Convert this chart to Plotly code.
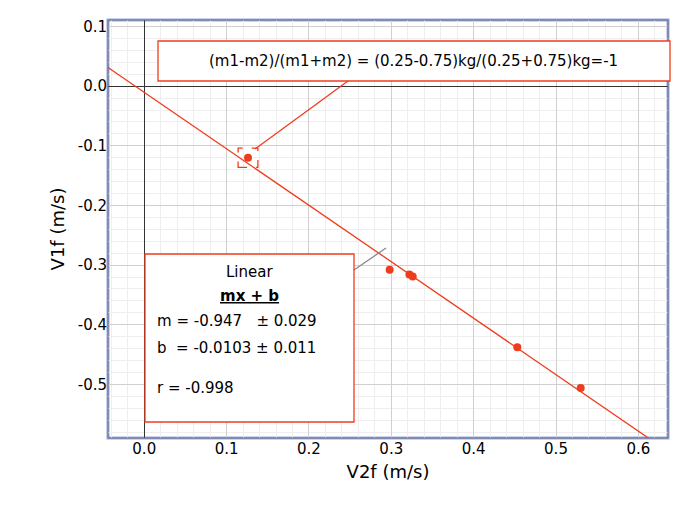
import plotly.graph_objects as go

v2f = [0.126, 0.298, 0.322, 0.326, 0.453, 0.530]
v1f = [-0.120, -0.308, -0.316, -0.319, -0.438, -0.506]

# linear fit
slope = -0.947
intercept = -0.0103
fit_x = [-0.044, 0.64]
fit_y = [slope * x + intercept for x in fit_x]

xticks = [0, 0.1, 0.2, 0.3, 0.4, 0.5, 0.6]
yticks = [0.1, 0, -0.1, -0.2, -0.3, -0.4, -0.5]

red = "#f03c1e"
fnt = "DejaVu Sans"

fig = go.Figure()
fig.add_trace(go.Scatter(x=fit_x, y=fit_y, mode="lines",
                         line=dict(color=red, width=1.3), hoverinfo="skip"))
fig.add_trace(go.Scatter(x=v2f, y=v1f, mode="markers",
                         marker=dict(color=red, size=8)))


def px(x):
    return (x - 100) / 560


def py(y):
    return (430 - y) / 418


shapes = [
    # outer frame
    dict(type="rect", xref="paper", yref="paper", x0=0, x1=1, y0=0, y1=1,
         line=dict(color="#9aa8d8", width=3), layer="below"),
    dict(type="rect", xref="paper", yref="paper", x0=0, x1=1, y0=0, y1=1,
         line=dict(color="#6a6f88", width=1)),
    # title box
    dict(type="rect", xref="paper", yref="paper", x0=px(150), x1=px(662), y0=py(73), y1=py(33),
         line=dict(color=red, width=1.3), fillcolor="white"),
    dict(type="line", xref="paper", yref="paper", x0=px(340), y0=py(73), x1=px(247), y1=py(141),
         line=dict(color=red, width=1.3)),
    # bracket around selected point
    dict(type="rect", xref="x", yref="y", x0=v2f[0] - 0.012, x1=v2f[0] + 0.012,
         y0=v1f[0] - 0.016, y1=v1f[0] + 0.016, line=dict(color=red, width=1.3, dash="dash")),
    # fit box
    dict(type="line", xref="paper", yref="paper", x0=px(346), y0=py(262), x1=px(378), y1=py(240),
         line=dict(color="#888888", width=1.3)),
    dict(type="rect", xref="paper", yref="paper", x0=px(137), x1=px(346), y0=py(414), y1=py(246),
         line=dict(color=red, width=1.3), fillcolor="white"),
]

ann = [
    dict(x=px(406), y=py(53), text="(m1-m2)/(m1+m2) = (0.25-0.75)kg/(0.25+0.75)kg=-1"),
    dict(x=px(241), y=py(264), text="Linear"),
    dict(x=px(241), y=py(288), text="<b><u>mx + b</u></b>"),
    dict(x=px(147), y=py(313), text="m = -0.947   ± 0.029", xanchor="left"),
    dict(x=px(147), y=py(340), text="b  = -0.0103 ± 0.011", xanchor="left"),
    dict(x=px(147), y=py(380), text="r = -0.998", xanchor="left"),
]
for a in ann:
    a.update(xref="paper", yref="paper", showarrow=False, yanchor="middle",
             font=dict(size=15, color="black", family=fnt))
    a.setdefault("xanchor", "center")

fig.update_layout(
    width=680, height=507, showlegend=False,
    margin=dict(l=100, r=20, t=12, b=77),
    plot_bgcolor="white", paper_bgcolor="white",
    font=dict(family=fnt, size=15, color="black"),
    shapes=shapes, annotations=ann,
    xaxis=dict(title=dict(text="V2f (m/s)", standoff=8), range=[-0.044, 0.636], automargin=False,
               tickvals=xticks, ticktext=[f"{v:.1f}" for v in xticks],
               gridcolor="#d0d0d0", zeroline=True, zerolinecolor="#333", zerolinewidth=1,
               minor=dict(dtick=0.02, gridcolor="#eeeeee", showgrid=True), ticks=""),
    yaxis=dict(title=dict(text="V1f (m/s)", standoff=8), range=[-0.59, 0.111], automargin=False,
               tickvals=yticks, ticktext=[f"{v:.1f}" for v in yticks],
               gridcolor="#d0d0d0", zeroline=True, zerolinecolor="#333", zerolinewidth=1,
               minor=dict(dtick=0.02, gridcolor="#eeeeee", showgrid=True), ticks=""),
)

fig.write_html("out.html")
